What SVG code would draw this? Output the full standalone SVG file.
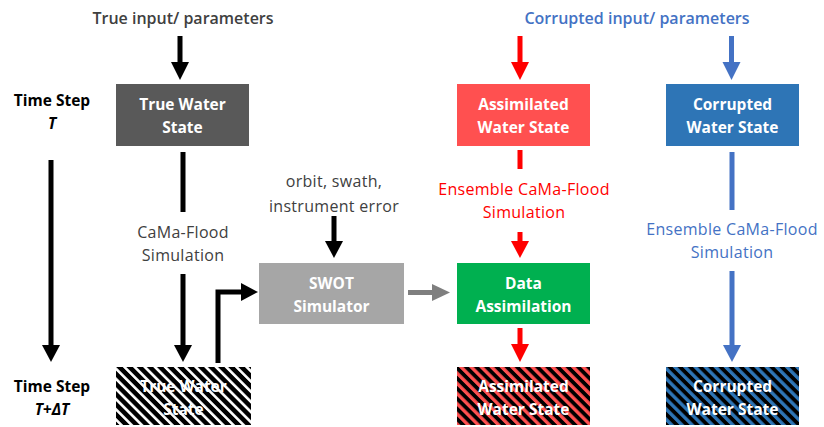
<svg xmlns="http://www.w3.org/2000/svg" width="824" height="427" viewBox="0 0 824 427">
  <defs>
    <style>
      .t { font-family: "Open Sans", "DejaVu Sans", sans-serif; text-anchor: middle; }
      .hdr { font-size: 16px; font-weight: 600; }
      .lbl { font-size: 16px; letter-spacing: 0.3px; }
      .box { font-size: 15.5px; font-weight: 700; fill: #ffffff; }
      .side { font-size: 15.5px; font-weight: 700; fill: #000000; }
    </style>
    <pattern id="hatchWhite" patternUnits="userSpaceOnUse" width="7.2" height="7.2" patternTransform="rotate(45)">
      <rect width="7.2" height="7.2" fill="#ffffff"/>
      <rect width="7.2" height="4.6" fill="#000000"/>
    </pattern>
    <pattern id="hatchRed" patternUnits="userSpaceOnUse" width="7.2" height="7.2" patternTransform="rotate(45)">
      <rect width="7.2" height="7.2" fill="#ff5050"/>
      <rect width="7.2" height="3.8" fill="#000000"/>
    </pattern>
    <pattern id="hatchBlue" patternUnits="userSpaceOnUse" width="7.2" height="7.2" patternTransform="rotate(45)">
      <rect width="7.2" height="7.2" fill="#2e75b6"/>
      <rect width="7.2" height="3.8" fill="#000000"/>
    </pattern>
  </defs>

  <rect width="824" height="427" fill="#ffffff"/>

  <!-- headings and side labels -->
  <text class="t hdr" x="183" y="24" fill="#404040">True input/  parameters</text>
  <text class="t hdr" x="637" y="24" fill="#4472c4">Corrupted  input/ parameters</text>
  <g id="timeStepT">
    <text class="t side" x="52" y="106">Time Step</text>
    <text class="t side" x="52" y="129" font-style="italic">T</text>
  </g>
  <g id="timeStepTdT">
    <text class="t side" x="52" y="392">Time Step</text>
    <text class="t side" x="52" y="415" font-style="italic">T+ΔT</text>
  </g>

  <!-- connectors -->
  <g id="connectors">
    <!-- time axis -->
    <rect x="48.5" y="160" width="5" height="186" fill="#000"/>
    <polygon points="42,345 60,345 51,362" fill="#000"/>

    <!-- true input arrow -->
    <rect x="177.5" y="36" width="5" height="27" fill="#000"/>
    <polygon points="171,62 189,62 180,80" fill="#000"/>

    <!-- CaMa-Flood simulation (true) -->
    <rect x="180.5" y="152" width="5" height="60" fill="#000"/>
    <rect x="180.5" y="274" width="5" height="72" fill="#000"/>
    <polygon points="174,345 192,345 183,362" fill="#000"/>

    <!-- true state to SWOT simulator -->
    <path d="M218,363 V292 H244" fill="none" stroke="#000" stroke-width="5"/>
    <polygon points="241,283 258,292 241,301" fill="#000"/>

    <!-- orbit/swath input -->
    <rect x="331.5" y="216" width="5" height="26" fill="#000"/>
    <polygon points="325,241 343,241 334,258" fill="#000"/>

    <!-- SWOT to data assimilation -->
    <rect x="408" y="290" width="26" height="5" fill="#7f7f7f"/>
    <polygon points="432,284 450,292.5 432,301" fill="#7f7f7f"/>

    <!-- assimilated column -->
    <rect x="517.5" y="36" width="5" height="27" fill="#ff0000"/>
    <polygon points="511,62 529,62 520,80" fill="#ff0000"/>
    <rect x="517.5" y="150" width="5" height="19" fill="#ff0000"/>
    <rect x="517.5" y="232" width="5" height="10" fill="#ff0000"/>
    <polygon points="511,241 529,241 520,258" fill="#ff0000"/>
    <rect x="517.5" y="328" width="5" height="17" fill="#ff0000"/>
    <polygon points="511,344 529,344 520,362" fill="#ff0000"/>

    <!-- corrupted column -->
    <rect x="729" y="36" width="5" height="27" fill="#4472c4"/>
    <polygon points="722.5,62 740.5,62 731.5,80" fill="#4472c4"/>
    <rect x="729.5" y="152" width="5" height="58" fill="#4472c4"/>
    <rect x="729.5" y="271" width="5" height="75" fill="#4472c4"/>
    <polygon points="723,345 741,345 732,362" fill="#4472c4"/>
  </g>

  <!-- connector labels -->
  <g id="labels">
    <text class="t lbl" x="183" y="238" fill="#404040">CaMa-Flood</text>
    <text class="t lbl" x="183" y="261" fill="#404040">Simulation</text>
    <text class="t lbl" x="334" y="187" fill="#404040">orbit, swath,</text>
    <text class="t lbl" x="334" y="212" fill="#404040">instrument error</text>
    <text class="t lbl" x="524" y="195" fill="#ff0000">Ensemble CaMa-Flood</text>
    <text class="t lbl" x="524" y="218" fill="#ff0000">Simulation</text>
    <text class="t lbl" x="732" y="235" fill="#4472c4">Ensemble CaMa-Flood</text>
    <text class="t lbl" x="732" y="258" fill="#4472c4">Simulation</text>
  </g>

  <!-- nodes at time step T -->
  <g id="trueStateT">
    <rect x="116" y="84" width="133" height="62" fill="#595959"/>
    <text class="t box" x="182.5" y="110">True Water</text>
    <text class="t box" x="182.5" y="133">State</text>
  </g>
  <g id="assimStateT">
    <rect x="457" y="84" width="133" height="62" fill="#ff5050"/>
    <text class="t box" x="523.5" y="110">Assimilated</text>
    <text class="t box" x="523.5" y="133">Water State</text>
  </g>
  <g id="corruptStateT">
    <rect x="666" y="84" width="133" height="62" fill="#2e75b6"/>
    <text class="t box" x="732.5" y="110">Corrupted</text>
    <text class="t box" x="732.5" y="133">Water State</text>
  </g>

  <!-- intermediate nodes -->
  <g id="swotSim">
    <rect x="259" y="263" width="145" height="61" fill="#a6a6a6"/>
    <text class="t box" x="331.5" y="289">SWOT</text>
    <text class="t box" x="331.5" y="312">Simulator</text>
  </g>
  <g id="dataAssim">
    <rect x="457" y="263" width="133" height="61" fill="#00b050"/>
    <text class="t box" x="523.5" y="289">Data</text>
    <text class="t box" x="523.5" y="312">Assimilation</text>
  </g>

  <!-- nodes at time step T+ΔT -->
  <g id="trueStateTdT">
    <rect x="116" y="367" width="135" height="58" fill="url(#hatchWhite)"/>
    <text class="t box" x="183.5" y="392">True Water</text>
    <text class="t box" x="183.5" y="415">State</text>
  </g>
  <g id="assimStateTdT">
    <rect x="457" y="367" width="133" height="58" fill="url(#hatchRed)"/>
    <text class="t box" x="523.5" y="392">Assimilated</text>
    <text class="t box" x="523.5" y="415">Water State</text>
  </g>
  <g id="corruptStateTdT">
    <rect x="666" y="367" width="133" height="58" fill="url(#hatchBlue)"/>
    <text class="t box" x="732.5" y="392">Corrupted</text>
    <text class="t box" x="732.5" y="415">Water State</text>
  </g>
</svg>
